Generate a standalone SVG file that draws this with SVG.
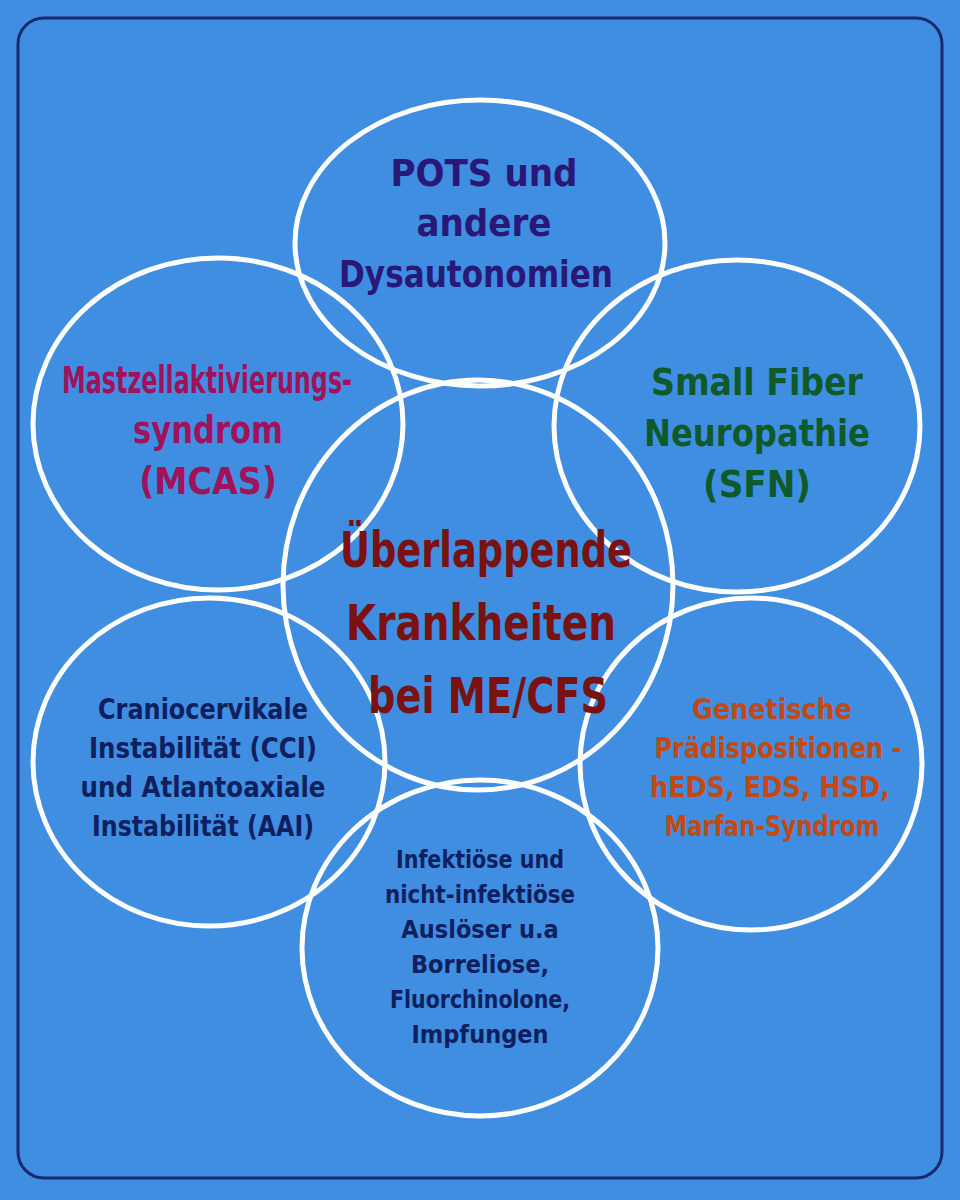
<svg xmlns="http://www.w3.org/2000/svg" width="960" height="1200" viewBox="0 0 960 1200">
<style>
.c{fill:none;stroke:#fff;stroke-width:5}
text{font-family:"DejaVu Sans Condensed","DejaVu Sans",sans-serif;font-weight:bold;text-anchor:middle;font-stretch:condensed}
</style>
<rect width="960" height="1200" fill="#3f8ee2"/>
<rect x="18" y="18" width="924" height="1160" rx="26" fill="none" stroke="#1a2a70" stroke-width="3"/>
<g id="n-pots"><ellipse class="c" cx="480" cy="243" rx="185" ry="143"/>
<text fill="#2a1878" font-size="38"><tspan x="484" y="186">POTS und</tspan><tspan x="484" y="236">andere</tspan><tspan x="476" y="287" textLength="274" lengthAdjust="spacingAndGlyphs">Dysautonomien</tspan></text></g>
<g id="n-mcas"><ellipse class="c" cx="218" cy="424" rx="185" ry="166"/>
<text fill="#a0125a" font-size="37"><tspan x="207" y="393" textLength="290" lengthAdjust="spacingAndGlyphs">Mastzellaktivierungs-</tspan><tspan x="208" y="443" textLength="150" lengthAdjust="spacingAndGlyphs">syndrom</tspan><tspan x="208" y="494">(MCAS)</tspan></text></g>
<g id="n-sfn"><ellipse class="c" cx="737" cy="426" rx="183" ry="166"/>
<text fill="#0f5a2a" font-size="38"><tspan x="757" y="395" textLength="212" lengthAdjust="spacingAndGlyphs">Small Fiber</tspan><tspan x="757" y="446" textLength="226" lengthAdjust="spacingAndGlyphs">Neuropathie</tspan><tspan x="757" y="497">(SFN)</tspan></text></g>
<g id="n-cci"><ellipse class="c" cx="209" cy="762" rx="176" ry="164"/>
<text fill="#10205e" font-size="29"><tspan x="203" y="719" textLength="210" lengthAdjust="spacingAndGlyphs">Craniocervikale</tspan><tspan x="203" y="758" textLength="228" lengthAdjust="spacingAndGlyphs">Instabilität (CCI)</tspan><tspan x="203" y="797" textLength="245" lengthAdjust="spacingAndGlyphs">und Atlantoaxiale</tspan><tspan x="203" y="836" textLength="222" lengthAdjust="spacingAndGlyphs">Instabilität (AAI)</tspan></text></g>
<g id="n-gen"><ellipse class="c" cx="751" cy="764" rx="171" ry="166"/>
<text fill="#c24a12" font-size="29"><tspan x="772" y="719" textLength="160" lengthAdjust="spacingAndGlyphs">Genetische</tspan><tspan x="778" y="758" textLength="247" lengthAdjust="spacingAndGlyphs">Prädispositionen -</tspan><tspan x="770" y="797" textLength="240" lengthAdjust="spacingAndGlyphs">hEDS, EDS, HSD,</tspan><tspan x="772" y="836" textLength="215" lengthAdjust="spacingAndGlyphs">Marfan-Syndrom</tspan></text></g>
<g id="n-inf"><ellipse class="c" cx="480" cy="948" rx="178" ry="168"/>
<text fill="#10205e" font-size="25"><tspan x="480" y="868" textLength="168" lengthAdjust="spacingAndGlyphs">Infektiöse und</tspan><tspan x="480" y="903" textLength="190" lengthAdjust="spacingAndGlyphs">nicht-infektiöse</tspan><tspan x="480" y="938">Auslöser u.a</tspan><tspan x="480" y="973">Borreliose,</tspan><tspan x="480" y="1008" textLength="180" lengthAdjust="spacingAndGlyphs">Fluorchinolone,</tspan><tspan x="480" y="1043">Impfungen</tspan></text></g>
<g id="n-center"><ellipse class="c" cx="478" cy="585" rx="195" ry="205"/>
<text fill="#7a1212" font-size="50"><tspan x="486" y="567" textLength="292" lengthAdjust="spacingAndGlyphs">Überlappende</tspan><tspan x="481" y="640" textLength="270" lengthAdjust="spacingAndGlyphs">Krankheiten</tspan><tspan x="488" y="713" textLength="240" lengthAdjust="spacingAndGlyphs">bei ME/CFS</tspan></text></g>
<g id="connectors"/>
</svg>
